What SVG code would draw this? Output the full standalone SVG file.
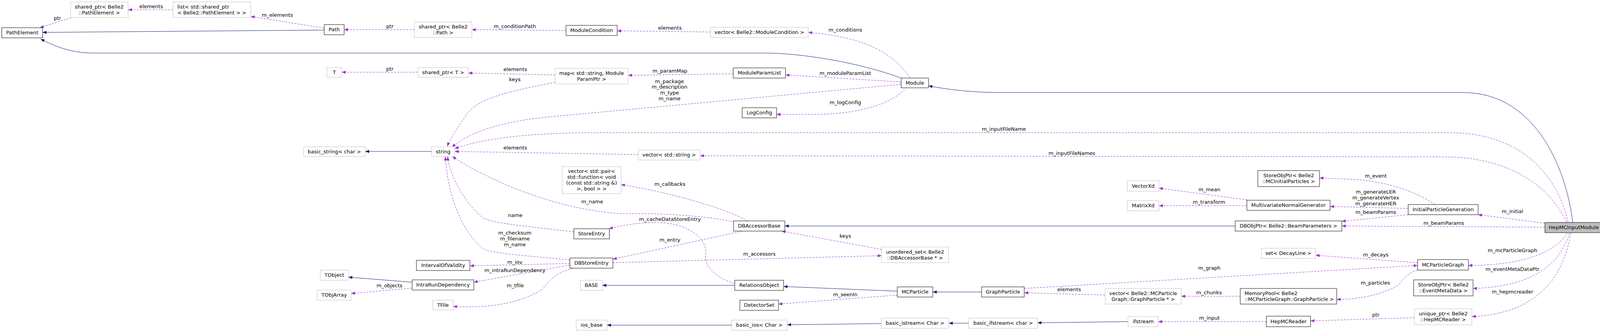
<svg xmlns="http://www.w3.org/2000/svg" width="4131" height="848" viewBox="0 0 4131 848">
<style>
text{font-family:"DejaVu Sans","Liberation Sans",sans-serif;font-size:13px;fill:#000;text-anchor:middle}
.n rect{fill:#fff;stroke:#000;stroke-width:1}
.g rect{fill:#fff;stroke:#bfbfbf;stroke-width:1}
.u{fill:none;stroke:#9a32cd;stroke-width:1;stroke-dasharray:5,3;marker-end:url(#au)}
.i{fill:none;stroke:#191970;stroke-width:1;marker-end:url(#ai)}
</style>
<defs>
<marker id="au" markerUnits="userSpaceOnUse" markerWidth="11" markerHeight="8" refX="10" refY="4" orient="auto"><path d="M0,0 L10,4 L0,8 z" fill="#9a32cd"/></marker>
<marker id="ai" markerUnits="userSpaceOnUse" markerWidth="11" markerHeight="8" refX="10" refY="4" orient="auto"><path d="M0,0 L10,4 L0,8 z" fill="#191970"/></marker>
</defs>
<rect width="4131" height="848" fill="#fff"/>
<g id="edges">
<path class="u" d="M183,45 L102,71"/><text x="147" y="51">ptr</text>
<path class="u" d="M443,25 L328,25"/><text x="387" y="21">elements</text>
<path class="u" d="M830,72 L642,42"/><text x="710" y="43">m_elements</text>
<path class="i" d="M830,77 L109,83"/>
<path class="i" d="M2307,200 C2200,160 2050,136 1960,136 L240,136 C180,136 140,118 104,100"/>
<path class="u" d="M1061,76 L881,76"/><text x="998" y="72">ptr</text>
<path class="u" d="M1449,78 L1208,76"/><text x="1318" y="72">m_conditionPath</text>
<path class="u" d="M1819,82 L1580,79"/><text x="1715" y="76">elements</text>
<path class="u" d="M2329,199 C2290,140 2220,95 2069,83"/><text x="2164" y="81">m_conditions</text>
<path class="u" d="M1070,185 L875,185"/><text x="998" y="181">ptr</text>
<path class="u" d="M1421,192 L1199,187"/><text x="1319" y="182">elements</text>
<path class="u" d="M1421,211 C1300,235 1220,250 1190,300 C1170,330 1152,355 1145,375"/><text x="1318" y="208">keys</text>
<path class="u" d="M1877,189 L1608,193"/><text x="1715" y="186">m_paramMap</text>
<path class="u" d="M2307,210 L2011,192"/><text x="2164" y="192">m_moduleParamList</text>
<path class="u" d="M2307,216 L1400,300 C1280,312 1200,340 1157,377"/>
<text x="1714" y="213">m_package</text><text x="1714" y="227">m_description</text><text x="1714" y="242">m_type</text><text x="1714" y="257">m_name</text>
<path class="u" d="M2316,230 C2280,265 2200,293 2083,293 L1988,293"/><text x="2164" y="267">m_logConfig</text>
<path class="i" d="M1105,388 L935,388"/>
<path class="u" d="M1634,396 L1164,388"/><text x="1319" y="383">elements</text>
<path class="u" d="M4014,569 C3990,460 3905,340 3710,340 L1500,340 C1320,342 1220,360 1164,381"/><text x="2570" y="335">m_inputFileName</text>
<path class="u" d="M4010,569 C3970,480 3865,402 3700,402 L1792,399"/><text x="2744" y="397">m_inputFileNames</text>
<path class="i" d="M4026,570 C4013,450 3940,237 3745,237 L2562,237 C2480,237 2420,228 2377,220"/>
<path class="u" d="M1914,566 C1850,530 1700,490 1590,473"/><text x="1715" y="476">m_callbacks</text>
<path class="u" d="M1878,568 C1800,552 1680,545 1596,548 C1450,540 1280,480 1158,401"/><text x="1516" y="521">m_name</text>
<path class="u" d="M1879,726 C1830,710 1800,680 1807,650 C1810,610 1760,570 1680,570 C1630,570 1590,578 1559,586"/><text x="1715" y="566">m_cacheDataStoreEntry</text>
<path class="u" d="M1469,594 C1350,580 1260,572 1236,558 C1190,520 1150,450 1146,401"/><text x="1319" y="556">name</text>
<path class="u" d="M1901,592 L1569,664"/><text x="1715" y="619">m_entry</text>
<path class="u" d="M1569,673 L2257,655"/><text x="1944" y="655">m_accessors</text>
<path class="u" d="M2257,639 L2001,592"/><text x="2164" y="609">keys</text>
<path class="i" d="M3162,579 L2009,579"/>
<path class="u" d="M1459,666 C1350,655 1260,650 1236,637 C1170,580 1145,480 1140,401"/>
<text x="1318" y="601">m_checksum</text><text x="1318" y="616">m_filename</text><text x="1318" y="631">m_name</text>
<path class="u" d="M1459,675 L1203,681"/><text x="1318" y="676">m_iov</text>
<path class="u" d="M1459,679 L1213,723"/><text x="1318" y="697">m_intraRunDependency</text>
<path class="i" d="M1055,723 L892,710"/>
<path class="u" d="M1055,738 L899,752"/><text x="997" y="736">m_objects</text>
<path class="u" d="M1467,687 C1420,700 1405,720 1390,740 C1330,780 1240,790 1160,785"/><text x="1319" y="736">m_tfile</text>
<path class="i" d="M1881,731 L1542,731"/>
<path class="i" d="M2297,746 L2006,734"/>
<path class="u" d="M2297,756 L1993,779"/><text x="2164" y="759">m_seenIn</text>
<path class="i" d="M1873,833 L1554,833"/>
<path class="i" d="M2256,829 L2015,832"/>
<path class="i" d="M2480,828 L2429,828"/>
<path class="i" d="M2888,824 L2656,827"/>
<path class="i" d="M2513,748 L2388,748"/>
<path class="u" d="M2829,756 L2622,750"/><text x="2737" y="746">elements</text>
<path class="u" d="M2622,739 L3629,680"/><text x="3096" y="691">m_graph</text>
<path class="u" d="M3175,759 L3024,759"/><text x="3095" y="754">m_chunks</text>
<path class="u" d="M3629,692 C3600,700 3590,720 3580,730 C3540,755 3480,767 3422,767"/><text x="3521" y="729">m_particles</text>
<path class="u" d="M3629,673 L3368,654"/><text x="3522" y="657">m_decays</text>
<path class="u" d="M3242,824 L2965,824"/><text x="3096" y="819">m_input</text>
<path class="u" d="M3621,814 L3355,822"/><text x="3522" y="811">ptr</text>
<path class="u" d="M3193,512 L2967,482"/><text x="3096" y="490">m_mean</text>
<path class="u" d="M3192,527 L2967,527"/><text x="3095" y="522">m_transform</text>
<path class="u" d="M3673,524 C3640,500 3560,462 3449,459 L3378,456"/><text x="3522" y="455">m_event</text>
<path class="u" d="M3605,534 L3405,529"/>
<text x="3522" y="496">m_generateLER</text><text x="3522" y="511">m_generateVertex</text><text x="3522" y="526">m_generateHER</text>
<path class="u" d="M3605,550 L3435,567"/><text x="3522" y="548">m_beamParams</text>
<path class="u" d="M3955,582 L3435,579"/><text x="3696" y="576">m_beamParams</text>
<path class="u" d="M3955,572 L3784,550"/><text x="3872" y="546">m_initial</text>
<path class="u" d="M4012,597 C3980,650 3890,680 3759,680"/><text x="3872" y="646">m_mcParticleGraph</text>
<path class="u" d="M4018,597 C3990,690 3905,735 3771,739"/><text x="3872" y="694">m_eventMetaDataPtr</text>
<path class="u" d="M4021,597 C4000,730 3915,805 3768,811"/><text x="3872" y="752">m_hepmcreader</text>
</g>
<g id="PathElement" class="n"><rect x="4.5" y="71" width="104.5" height="26"/><text x="57" y="88">PathElement</text></g>
<g id="SharedPtrPathElement" class="g"><rect x="181" y="5" width="147" height="40"/><text x="254" y="22">shared_ptr&lt; Belle2</text><text x="254" y="37">::PathElement &gt;</text></g>
<g id="ListSharedPtr" class="g"><rect x="443" y="5" width="199" height="40"/><text x="454" y="22" style="text-anchor:start">list&lt; std::shared_ptr</text><text x="454" y="37" style="text-anchor:start">&lt; Belle2::PathElement &gt; &gt;</text></g>
<g id="Path" class="n"><rect x="830" y="63" width="51" height="26"/><text x="855.5" y="80">Path</text></g>
<g id="SharedPtrPath" class="g"><rect x="1061" y="56" width="147" height="40"/><text x="1134.5" y="73">shared_ptr&lt; Belle2</text><text x="1134.5" y="88">::Path &gt;</text></g>
<g id="ModuleCondition" class="n"><rect x="1449" y="65" width="131" height="26"/><text x="1514.5" y="82">ModuleCondition</text></g>
<g id="VectorModuleCondition" class="g"><rect x="1819" y="70" width="250" height="26"/><text x="1944" y="87">vector&lt; Belle2::ModuleCondition &gt;</text></g>
<g id="T" class="g"><rect x="837" y="173" width="38" height="25"/><text x="856" y="190">T</text></g>
<g id="SharedPtrT" class="g"><rect x="1070" y="173" width="129" height="25"/><text x="1134.5" y="190">shared_ptr&lt; T &gt;</text></g>
<g id="Map" class="g"><rect x="1421" y="175" width="187" height="40"/><text x="1514.5" y="192">map&lt; std::string, Module</text><text x="1514.5" y="207">ParamPtr &gt;</text></g>
<g id="ModuleParamList" class="n"><rect x="1877" y="174" width="134" height="26"/><text x="1944" y="191">ModuleParamList</text></g>
<g id="Module" class="n"><rect x="2307" y="200" width="70" height="25"/><text x="2342" y="217">Module</text></g>
<g id="LogConfig" class="n"><rect x="1900" y="276" width="88" height="26"/><text x="1944" y="293">LogConfig</text></g>
<g id="BasicString" class="g"><rect x="777" y="376" width="158" height="25"/><text x="856" y="393">basic_string&lt; char &gt;</text></g>
<g id="String" class="g"><rect x="1105" y="376" width="59" height="25"/><text x="1134.5" y="393">string</text></g>
<g id="VectorString" class="g"><rect x="1634" y="384" width="158" height="26"/><text x="1713" y="401">vector&lt; std::string &gt;</text></g>
<g id="VectorPair" class="g"><rect x="1439" y="427" width="151" height="69"/><text x="1514.5" y="443">vector&lt; std::pair&lt;</text><text x="1514.5" y="458">std::function&lt; void</text><text x="1514.5" y="473">(const std::string &amp;)</text><text x="1514.5" y="488">&gt;, bool &gt; &gt;</text></g>
<g id="StoreEntry" class="n"><rect x="1469" y="586" width="91" height="26"/><text x="1514.5" y="603">StoreEntry</text></g>
<g id="DBAccessorBase" class="n"><rect x="1878" y="566" width="131" height="26"/><text x="1943.5" y="583">DBAccessorBase</text></g>
<g id="UnorderedSet" class="g"><rect x="2257" y="633" width="171" height="40"/><text x="2342.5" y="650">unordered_set&lt; Belle2</text><text x="2342.5" y="665">::DBAccessorBase * &gt;</text></g>
<g id="DBStoreEntry" class="n"><rect x="1459" y="661" width="110" height="26"/><text x="1514" y="678">DBStoreEntry</text></g>
<g id="IntervalOfValidity" class="n"><rect x="1066" y="667" width="137" height="26"/><text x="1134.5" y="684">IntervalOfValidity</text></g>
<g id="TObject" class="g"><rect x="820" y="692" width="72" height="26"/><text x="856" y="709">TObject</text></g>
<g id="IntraRunDependency" class="n"><rect x="1055" y="717" width="158" height="26"/><text x="1134" y="734">IntraRunDependency</text></g>
<g id="TObjArray" class="g"><rect x="812" y="743" width="87" height="26"/><text x="855.5" y="760">TObjArray</text></g>
<g id="TFile" class="g"><rect x="1108" y="769" width="52" height="25"/><text x="1134" y="786">TFile</text></g>
<g id="BASE" class="g"><rect x="1486" y="718" width="56" height="26"/><text x="1514" y="735">BASE</text></g>
<g id="RelationsObject" class="n"><rect x="1881" y="718" width="125" height="26"/><text x="1943.5" y="735">RelationsObject</text></g>
<g id="DetectorSet" class="n"><rect x="1894" y="769" width="99" height="26"/><text x="1943.5" y="786">DetectorSet</text></g>
<g id="IosBase" class="g"><rect x="1475" y="820" width="79" height="26"/><text x="1514.5" y="837">ios_base</text></g>
<g id="BasicIos" class="g"><rect x="1873" y="820" width="142" height="26"/><text x="1944" y="837">basic_ios&lt; Char &gt;</text></g>
<g id="MCParticle" class="n"><rect x="2297" y="735" width="91" height="26"/><text x="2342.5" y="752">MCParticle</text></g>
<g id="GraphParticle" class="n"><rect x="2513" y="735" width="109" height="26"/><text x="2567.5" y="752">GraphParticle</text></g>
<g id="BasicIstream" class="g"><rect x="2256" y="815" width="173" height="26"/><text x="2342.5" y="832">basic_istream&lt; Char &gt;</text></g>
<g id="BasicIfstream" class="g"><rect x="2480" y="815" width="176" height="26"/><text x="2568" y="832">basic_ifstream&lt; char &gt;</text></g>
<g id="VectorXd" class="g"><rect x="2886" y="463" width="81" height="27"/><text x="2926.5" y="481">VectorXd</text></g>
<g id="MatrixXd" class="g"><rect x="2886" y="514" width="81" height="26"/><text x="2926.5" y="531">MatrixXd</text></g>
<g id="StoreObjPtrMCInitialParticles" class="n"><rect x="3220" y="437" width="158" height="41"/><text x="3299" y="454">StoreObjPtr&lt; Belle2</text><text x="3299" y="469">::MCInitialParticles &gt;</text></g>
<g id="MultivariateNormalGenerator" class="n"><rect x="3192" y="513" width="213" height="26"/><text x="3298.5" y="530">MultivariateNormalGenerator</text></g>
<g id="DBObjPtrBeamParameters" class="n"><rect x="3162" y="566" width="273" height="26"/><text x="3298.5" y="583">DBObjPtr&lt; Belle2::BeamParameters &gt;</text></g>
<g id="SetDecayLine" class="g"><rect x="3229" y="636" width="139" height="26"/><text x="3298.5" y="653">set&lt; DecayLine &gt;</text></g>
<g id="VectorGraphParticle" class="g"><rect x="2829" y="739" width="195" height="40"/><text x="2926.5" y="756">vector&lt; Belle2::MCParticle</text><text x="2926.5" y="771">Graph::GraphParticle * &gt;</text></g>
<g id="MemoryPool" class="n"><rect x="3175" y="739" width="247" height="40"/><text x="3186" y="756" style="text-anchor:start">MemoryPool&lt; Belle2</text><text x="3186" y="771" style="text-anchor:start">::MCParticleGraph::GraphParticle &gt;</text></g>
<g id="Ifstream" class="g"><rect x="2888" y="811" width="77" height="26"/><text x="2926.5" y="828">ifstream</text></g>
<g id="HepMCReader" class="n"><rect x="3242" y="810" width="113" height="27"/><text x="3298.5" y="828">HepMCReader</text></g>
<g id="InitialParticleGeneration" class="n"><rect x="3605" y="524" width="179" height="26"/><text x="3694.5" y="541">InitialParticleGeneration</text></g>
<g id="HepMCInputModule"><rect x="3955" y="570" width="148" height="26" fill="#bfbfbf" stroke="#000"/><text x="4029" y="587" textLength="128" lengthAdjust="spacingAndGlyphs">HepMCInputModule</text></g>
<g id="MCParticleGraph" class="n"><rect x="3629" y="665" width="130" height="27"/><text x="3694" y="683">MCParticleGraph</text></g>
<g id="StoreObjPtrEventMetaData" class="n"><rect x="3619" y="717" width="152" height="41"/><text x="3695" y="734">StoreObjPtr&lt; Belle2</text><text x="3695" y="749">::EventMetaData &gt;</text></g>
<g id="UniquePtrHepMCReader" class="g"><rect x="3621" y="791" width="147" height="41"/><text x="3694.5" y="808">unique_ptr&lt; Belle2</text><text x="3694.5" y="823">::HepMCReader &gt;</text></g>
</svg>
